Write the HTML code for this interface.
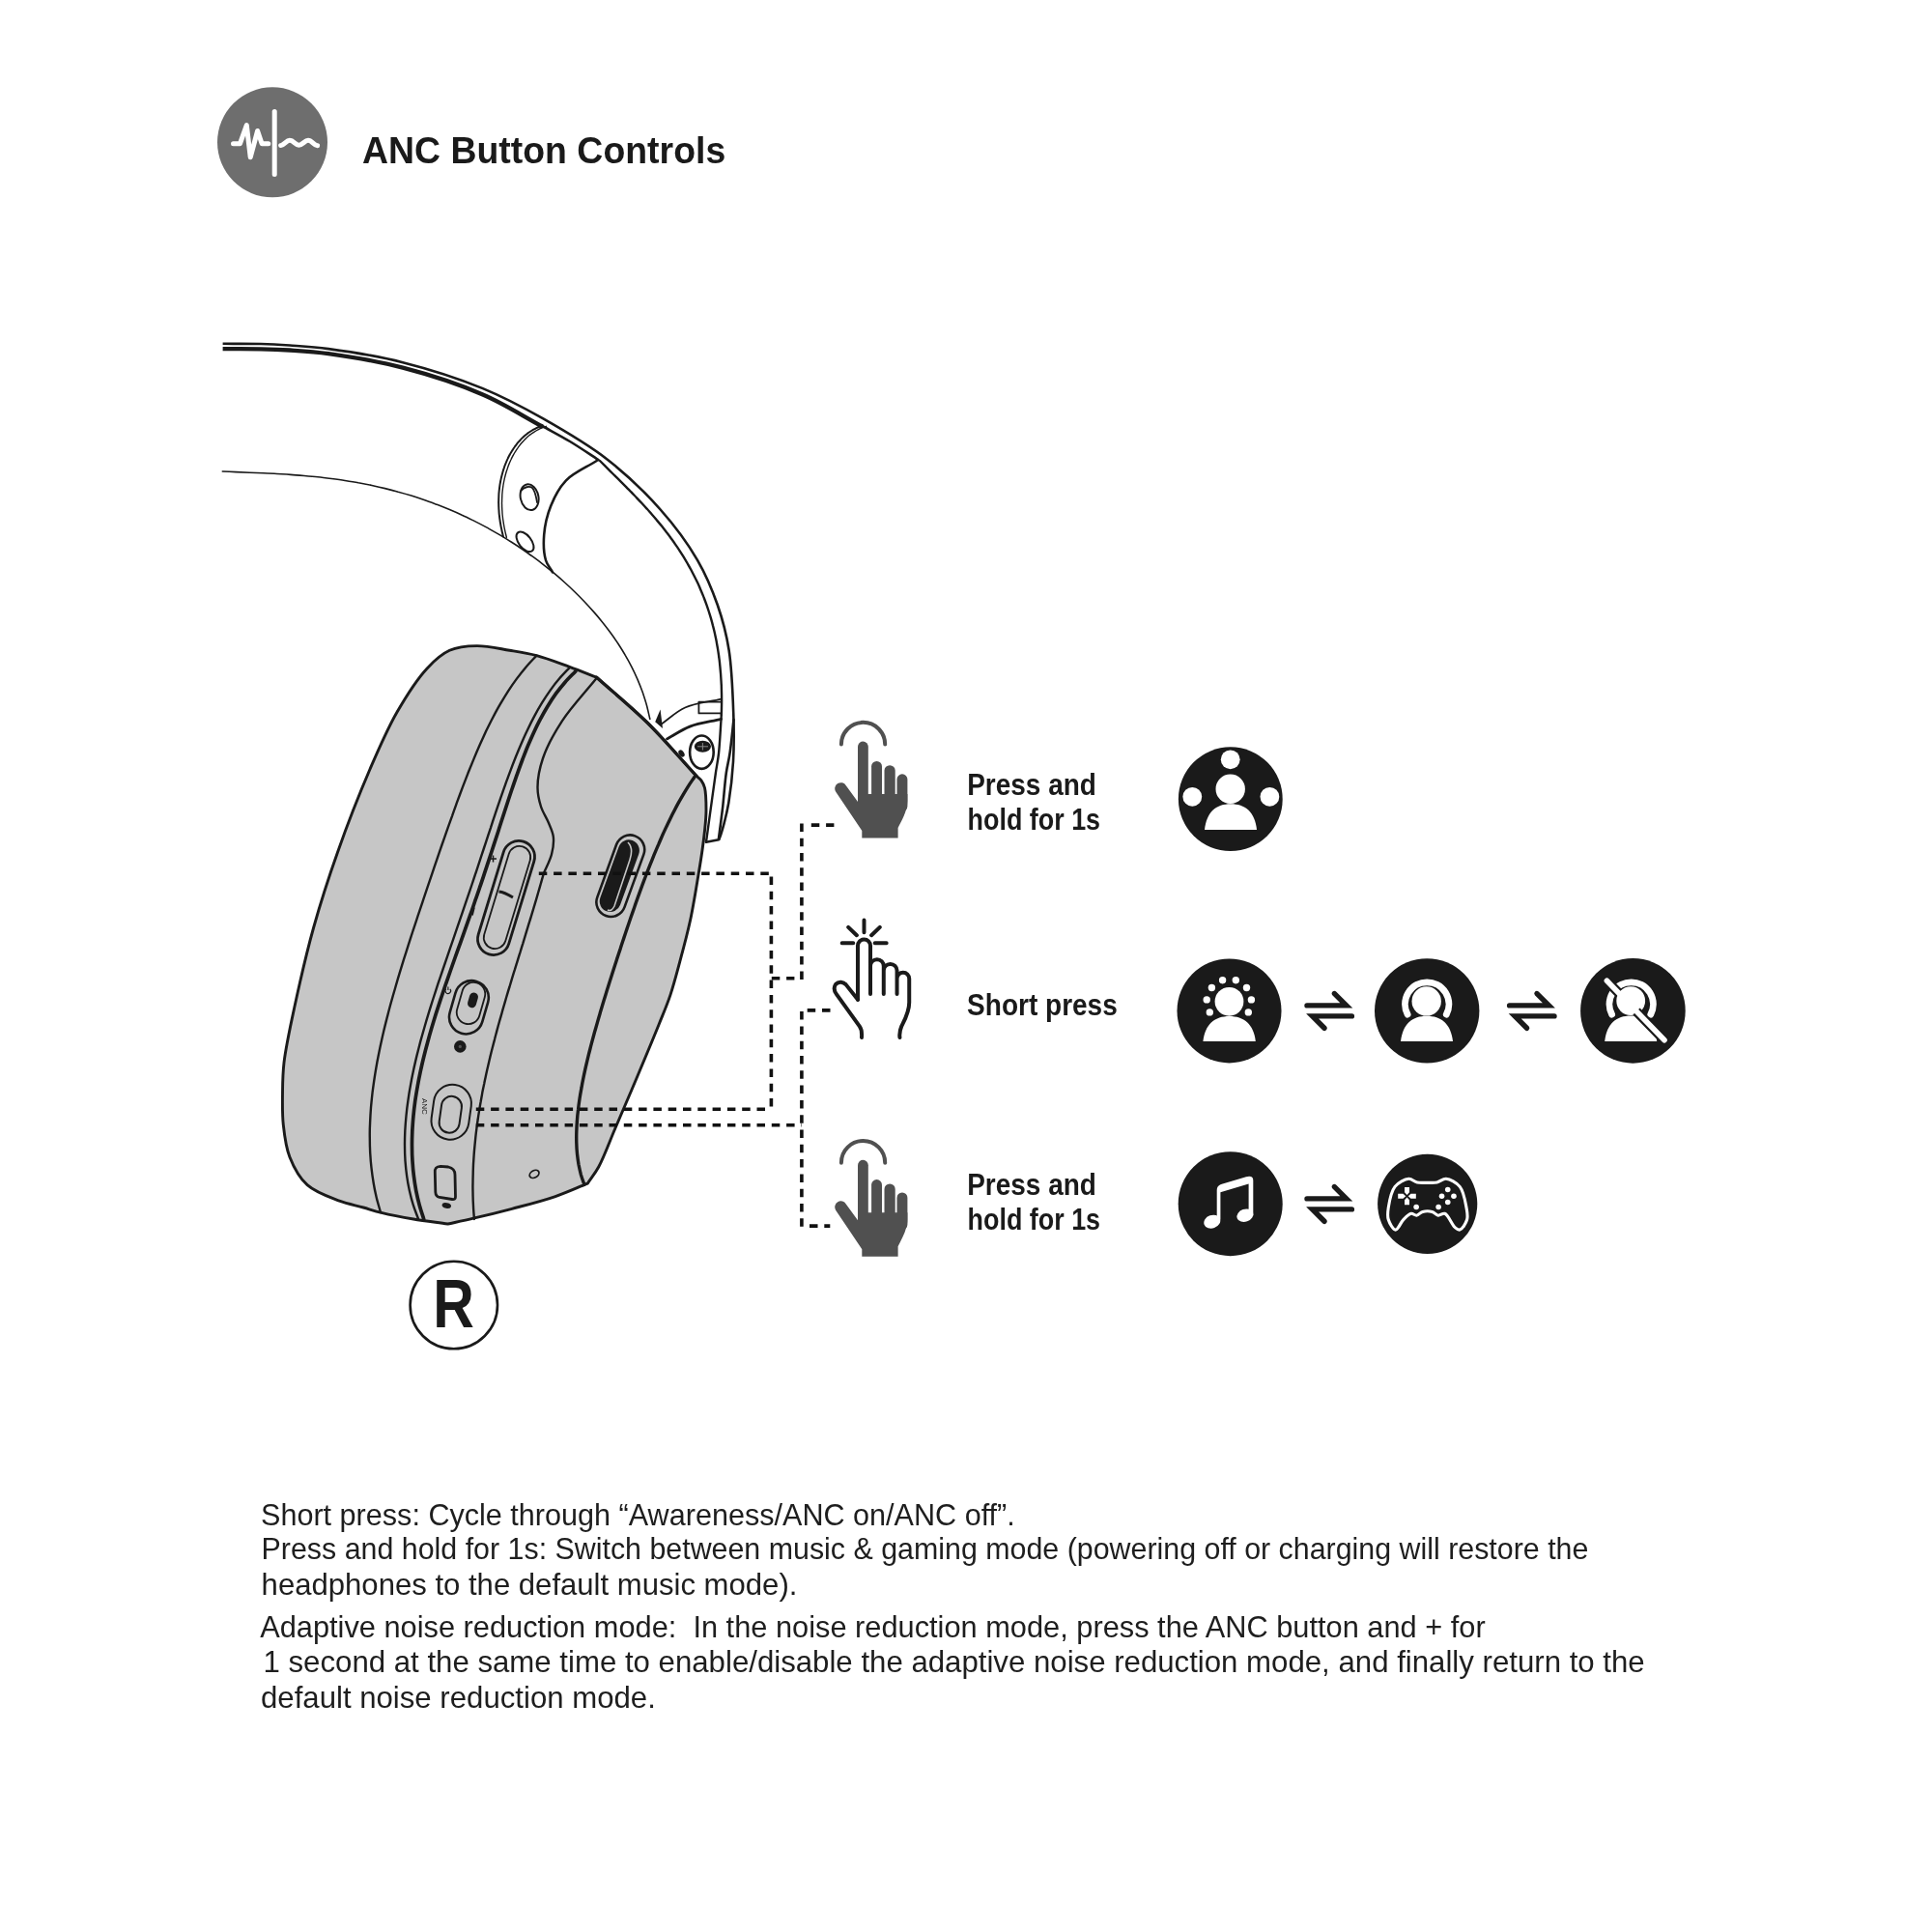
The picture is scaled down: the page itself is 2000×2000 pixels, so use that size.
<!DOCTYPE html>
<html><head><meta charset="utf-8"><style>
html,body{margin:0;padding:0;background:#fff;width:2000px;height:2000px;overflow:hidden}
svg{position:absolute;left:0;top:0;display:block;will-change:transform}
text{font-family:"Liberation Sans",sans-serif}
</style></head><body>
<svg width="2000" height="2000" viewBox="0 0 2000 2000">
<circle cx="282" cy="147.3" r="57" fill="#6e6e6e"/>
<g fill="none" stroke="#fff" stroke-width="5" stroke-linecap="round" stroke-linejoin="round">
<line x1="284.2" y1="115.5" x2="284.2" y2="180.5"/>
<path d="M241.5,148.7 H248.5 L255.3,129.5 L259.2,162.8 L266.6,135.5 L271.1,148.7 H277.8"/>
<path d="M290.6,150.6 C294.5,150 296.5,145 300.2,145.3 C303.8,145.5 306,150.3 309.4,150.3 C313,150.3 315.5,145.3 319,145.3 C322.8,145.3 325,150.5 328.6,150.8"/>
</g>
<g fill="none" stroke="#1a1a1a" stroke-linecap="round" stroke-linejoin="round">
<path d="M230.6,355.8 C243.7,355.9 257.8,355.7 270.0,356.0 C280.7,356.3 289.3,356.8 300.0,357.5 C312.4,358.4 324.6,359.0 340.0,361.1 C361.6,364.0 391.1,368.6 417.0,375.2 C444.3,382.1 474.5,391.7 499.8,402.1 C522.4,411.4 541.1,421.4 561.9,433.2 C584.1,445.8 608.3,459.8 628.8,475.7 C648.7,491.2 667.3,509.0 683.2,527.0 C698.1,543.8 711.8,562.2 722.0,579.8 C731.0,595.3 737.3,610.5 742.8,626.3 C748.1,641.6 751.9,655.9 754.6,673.0 C757.8,693.2 758.6,719.5 759.3,740.0 C759.9,757.5 759.9,772.9 759.0,788.5 C758.1,803.2 756.2,819.4 754.3,831.0 C752.9,839.2 751.4,845.4 749.7,851.8 C748.2,857.4 746.1,864.5 745.0,867.3 C744.6,868.4 744.3,868.8 744.0,869.5" stroke-width="2.6" stroke-linecap="butt"/>
<path d="M230.6,361.1 C243.7,361.2 257.8,361.0 270.0,361.3 C280.7,361.5 289.3,361.8 300.0,362.5 C312.4,363.3 324.6,363.9 340.0,366.1 C361.6,369.1 391.1,373.9 417.0,380.7 C444.3,387.8 474.7,397.6 499.8,408.5 C522.3,418.2 540.9,430.5 561.4,441.5" stroke-width="4.3" stroke-linecap="butt"/>
<path d="M561.4,441.0 C570.9,446.3 580.5,451.3 590.0,457.0 C599.9,462.9 609.7,469.7 619.5,476.1" stroke-width="2.6"/>
<path d="M621.0,477.0 C622.8,478.8 624.6,480.6 626.4,482.4 C628.2,484.2 630.0,486.0 631.8,487.8 C633.6,489.6 635.4,491.4 637.2,493.2 C639.1,495.0 640.9,496.8 642.7,498.6 C644.6,500.5 646.4,502.3 648.2,504.1 C650.0,506.0 651.9,507.8 653.7,509.7 C655.5,511.6 657.3,513.4 659.1,515.3 C660.9,517.2 662.7,519.1 664.5,521.0 C666.2,522.9 668.0,524.9 669.8,526.8 C671.5,528.7 673.2,530.7 675.0,532.7 C676.7,534.6 678.4,536.6 680.0,538.6 C681.7,540.6 683.4,542.6 685.0,544.6 C686.6,546.7 688.3,548.7 689.8,550.8 C691.4,552.8 693.0,554.9 694.5,557.0 C696.1,559.1 697.6,561.2 699.0,563.4 C700.5,565.5 702.0,567.6 703.4,569.8 C704.8,572.0 706.2,574.2 707.6,576.4 C708.9,578.6 710.2,580.8 711.5,583.0 C712.8,585.3 714.1,587.5 715.3,589.8 C716.5,592.1 717.7,594.4 718.9,596.7 C720.1,599.0 721.2,601.3 722.3,603.6 C723.4,606.0 724.4,608.3 725.4,610.7 C726.4,613.1 727.4,615.5 728.4,617.9 C729.3,620.3 730.2,622.7 731.1,625.1 C732.0,627.6 732.8,630.0 733.6,632.5 C734.4,635.0 735.1,637.4 735.9,639.9 C736.6,642.4 737.3,644.9 737.9,647.4 C738.6,649.9 739.2,652.5 739.8,655.0 C740.3,657.5 740.9,660.1 741.4,662.6 C741.9,665.2 742.3,667.7 742.8,670.3 C743.2,672.9 743.6,675.4 744.0,678.0 C744.3,680.6 744.7,683.2 745.0,685.8 C745.2,688.4 745.5,691.0 745.7,693.6 C746.0,696.2 746.2,698.8 746.3,701.3 C746.5,703.9 746.6,706.5 746.8,709.1 C746.9,711.7 746.9,714.3 747.0,716.9 C747.1,719.5 747.1,722.1 747.1,724.7 C747.1,727.2 747.1,729.8 747.0,732.4 C747.0,734.9 746.9,737.5 746.8,740.0" stroke-width="2.4"/>
<path d="M230.3,488.0 C235.0,488.2 239.6,488.4 244.3,488.6 C249.0,488.8 253.7,489.0 258.3,489.2 C263.0,489.4 267.8,489.6 272.5,489.8 C277.2,490.0 281.9,490.2 286.6,490.5 C291.3,490.8 296.1,491.0 300.8,491.4 C305.5,491.7 310.2,492.1 314.9,492.5 C319.6,492.9 324.3,493.3 329.0,493.8 C333.7,494.3 338.4,494.9 343.1,495.5 C347.8,496.1 352.4,496.7 357.1,497.5 C361.8,498.2 366.4,498.9 371.0,499.8 C375.7,500.6 380.3,501.5 384.9,502.5 C389.5,503.5 394.0,504.5 398.6,505.6 C403.2,506.7 407.7,507.9 412.2,509.2 C416.8,510.4 421.3,511.7 425.7,513.1 C430.2,514.5 434.7,516.0 439.1,517.5 C443.5,519.0 448.0,520.7 452.3,522.3 C456.7,524.0 461.1,525.8 465.4,527.6 C469.7,529.4 474.1,531.3 478.3,533.3 C482.6,535.2 486.8,537.3 491.1,539.4 C495.3,541.5 499.5,543.7 503.6,545.9 C507.7,548.2 511.9,550.5 515.9,552.9 C520.0,555.3 524.1,557.7 528.0,560.3 C532.0,562.8 536.0,565.4 539.9,568.0 C543.8,570.7 547.7,573.4 551.5,576.2 C555.4,579.0 559.2,581.8 562.9,584.8 C566.6,587.7 570.3,590.6 573.9,593.7 C577.5,596.7 581.1,599.8 584.6,603.0 C588.1,606.1 591.6,609.4 595.0,612.7 C598.3,615.9 601.7,619.3 604.9,622.7 C608.1,626.1 611.3,629.6 614.4,633.1 C617.5,636.6 620.5,640.2 623.5,643.9 C626.4,647.5 629.3,651.2 632.0,655.0 C634.8,658.8 637.4,662.6 640.0,666.5 C642.5,670.4 645.0,674.3 647.3,678.4 C649.7,682.4 651.9,686.5 654.0,690.7 C656.1,694.8 658.1,699.1 660.0,703.4 C661.8,707.7 663.6,712.1 665.2,716.5 C666.7,721.0 668.2,725.6 669.5,730.2 C670.7,734.8 671.7,739.6 672.8,744.3" stroke-width="1.6"/>
<path d="M561.9,440.5 C560.8,440.9 559.6,441.3 558.6,441.7 C557.5,442.1 556.4,442.6 555.3,443.1 C554.3,443.6 553.3,444.1 552.3,444.7 C551.3,445.3 550.3,445.9 549.3,446.5 C548.4,447.1 547.4,447.7 546.5,448.4 C545.6,449.1 544.7,449.8 543.8,450.5 C543.0,451.2 542.1,452.0 541.3,452.8 C540.5,453.5 539.7,454.3 538.9,455.2 C538.1,456.0 537.4,456.8 536.6,457.7 C535.9,458.5 535.2,459.4 534.5,460.3 C533.8,461.2 533.1,462.1 532.5,463.0 C531.8,464.0 531.2,464.9 530.6,465.9 C529.9,466.8 529.4,467.8 528.8,468.8 C528.2,469.8 527.7,470.8 527.1,471.8 C526.6,472.8 526.1,473.8 525.6,474.9 C525.1,475.9 524.7,477.0 524.2,478.0 C523.8,479.1 523.3,480.1 522.9,481.2 C522.5,482.3 522.1,483.4 521.8,484.4 C521.4,485.5 521.0,486.6 520.7,487.7 C520.4,488.8 520.1,489.9 519.8,491.0 C519.5,492.2 519.2,493.3 518.9,494.4 C518.7,495.5 518.5,496.7 518.2,497.8 C518.0,498.9 517.8,500.0 517.6,501.2 C517.4,502.3 517.3,503.5 517.1,504.6 C517.0,505.7 516.8,506.9 516.7,508.0 C516.6,509.2 516.5,510.3 516.4,511.4 C516.4,512.6 516.3,513.7 516.3,514.9 C516.2,516.0 516.2,517.2 516.2,518.3 C516.1,519.5 516.1,520.6 516.2,521.7 C516.2,522.9 516.2,524.0 516.3,525.2 C516.3,526.3 516.4,527.5 516.5,528.6 C516.5,529.7 516.6,530.9 516.7,532.0 C516.8,533.1 517.0,534.3 517.1,535.4 C517.2,536.5 517.4,537.7 517.6,538.8 C517.7,539.9 517.9,541.0 518.1,542.1 C518.3,543.3 518.5,544.4 518.7,545.5 C518.9,546.6 519.2,547.7 519.4,548.8 C519.6,550.0 519.9,551.1 520.2,552.2 C520.4,553.3 520.7,554.4 521.0,555.5" stroke-width="2"/>
<path d="M565.3,441.3 C564.2,441.7 563.0,442.1 562.0,442.5 C560.9,442.9 559.8,443.4 558.7,443.9 C557.7,444.4 556.7,444.9 555.7,445.5 C554.7,446.1 553.7,446.7 552.7,447.3 C551.8,447.9 550.8,448.5 549.9,449.2 C549.0,449.9 548.1,450.6 547.2,451.3 C546.4,452.0 545.5,452.8 544.7,453.6 C543.9,454.3 543.1,455.1 542.3,456.0 C541.5,456.8 540.8,457.6 540.0,458.5 C539.3,459.3 538.6,460.2 537.9,461.1 C537.2,462.0 536.5,462.9 535.9,463.8 C535.2,464.8 534.6,465.7 534.0,466.7 C533.3,467.6 532.8,468.6 532.2,469.6 C531.6,470.6 531.1,471.6 530.5,472.6 C530.0,473.6 529.5,474.6 529.0,475.7 C528.5,476.7 528.1,477.8 527.6,478.8 C527.2,479.9 526.7,480.9 526.3,482.0 C525.9,483.1 525.5,484.2 525.2,485.2 C524.8,486.3 524.4,487.4 524.1,488.5 C523.8,489.6 523.5,490.7 523.2,491.8 C522.9,493.0 522.6,494.1 522.3,495.2 C522.1,496.3 521.9,497.5 521.6,498.6 C521.4,499.7 521.2,500.8 521.0,502.0 C520.8,503.1 520.7,504.3 520.5,505.4 C520.4,506.5 520.2,507.7 520.1,508.8 C520.0,510.0 519.9,511.1 519.8,512.2 C519.8,513.4 519.7,514.5 519.7,515.7 C519.6,516.8 519.6,518.0 519.6,519.1 C519.5,520.3 519.5,521.4 519.6,522.5 C519.6,523.7 519.6,524.8 519.7,526.0 C519.7,527.1 519.8,528.3 519.9,529.4 C519.9,530.5 520.0,531.7 520.1,532.8 C520.2,533.9 520.4,535.1 520.5,536.2 C520.6,537.3 520.8,538.5 521.0,539.6 C521.1,540.7 521.3,541.8 521.5,542.9 C521.7,544.1 521.9,545.2 522.1,546.3 C522.3,547.4 522.6,548.5 522.8,549.6 C523.0,550.8 523.3,551.9 523.6,553.0 C523.8,554.1 524.1,555.2 524.4,556.3" stroke-width="1.4"/>
<path d="M617.7,477.0 C607.1,483.8 594.1,489.0 586.0,497.3 C578.7,504.8 574.0,514.3 570.2,523.7 C566.4,533.1 564.0,543.9 563.2,553.6 C562.5,562.6 562.9,573.0 565.0,580.0 C566.5,585.1 569.7,588.2 572.0,592.3" stroke-width="2.6"/>
<ellipse cx="548.1" cy="514.7" rx="9.3" ry="13.5" transform="rotate(-12 548.1 514.7)" stroke-width="2"/>
<path d="M539.5,508 C542,504 548,503 551,505 C554,508 555,514 556,520" stroke-width="1.8"/>
<ellipse cx="543.5" cy="560.8" rx="6.5" ry="12" transform="rotate(-38 543.5 560.8)" stroke-width="2"/>
<path d="M746.8,740.0 C745.9,753.3 745.2,769.0 744.0,780.0 C743.1,787.8 741.9,792.9 740.9,800.0 C739.7,808.1 738.6,816.3 737.3,825.9 C735.6,838.1 732.5,860.6 731.6,867.3 C731.3,869.4 731.2,870.1 731.0,871.5" stroke-width="2.4"/>
<path d="M759.5,745.0 C758.2,756.7 757.0,770.0 755.5,780.0 C754.4,787.6 752.9,792.3 751.8,800.0 C750.3,810.3 749.4,824.5 748.1,836.2 C746.8,847.2 745.4,857.4 744.0,868.0" stroke-width="2.6"/>
<path d="M731,871.8 L744,869.3" stroke-width="2.6"/>
<path d="M685.1,749.2 C693.1,743.6 699.8,736.7 709.2,732.5 C719.9,727.7 734.1,726.6 746.6,723.6" stroke-width="1.8"/>
<path d="M690.5,764.9 C698.4,760.6 705.4,755.5 714.1,752.1 C723.8,748.4 735.8,746.9 746.6,744.3" stroke-width="2.8"/>
<path d="M746.6,726.6 H723.4 V738.4 H746.6" stroke-width="1.8"/>
<ellipse cx="726.4" cy="778.7" rx="12.3" ry="17.2" stroke-width="2.6"/>
</g>
<ellipse cx="727.4" cy="772.8" rx="8.6" ry="6" fill="#1a1a1a"/>
<path d="M722,772.8 H733 M727.4,769 V776.5" stroke="#888" stroke-width="1"/>
<path d="M678.2,747.2 L683.6,734.4 L686,754.1 Z" fill="#1a1a1a"/>
<ellipse cx="705.5" cy="780" rx="2.6" ry="4" transform="rotate(-35 705.5 780)" fill="#1a1a1a"/>
<path d="M617.6,701.2 C608.3,697.6 599.4,694.0 589.6,690.4 C578.8,686.5 566.4,681.6 555.5,678.7 C545.8,676.1 537.3,674.9 527.5,673.3 C516.7,671.5 504.2,668.4 493.4,668.6 C483.6,668.7 473.9,669.5 465.4,673.3 C456.7,677.2 449.8,683.6 442.1,691.9 C431.7,703.1 420.6,720.5 411.1,737.0 C400.7,755.0 392.5,774.3 383.1,796.0 C372.0,821.8 359.5,853.8 349.6,881.9 C340.2,908.4 332.1,933.4 324.7,960.0 C317.1,987.1 310.2,1017.7 304.8,1042.8 C300.3,1063.6 295.9,1083.7 294.0,1100.0 C292.6,1112.0 292.6,1120.8 292.5,1131.4 C292.4,1142.3 292.1,1153.5 293.3,1164.5 C294.5,1175.6 295.8,1187.4 299.9,1197.7 C304.0,1208.1 309.8,1219.2 318.1,1226.7 C326.7,1234.5 340.9,1239.2 351.3,1243.2 C360.0,1246.5 368.4,1247.8 376.1,1250.0 C382.8,1251.9 387.6,1253.7 394.8,1255.4 C404.2,1257.7 416.7,1260.1 428.0,1262.0 C439.6,1264.0 451.7,1265.3 463.6,1267.0 C472.4,1265.1 480.4,1263.5 490.1,1261.2 C502.1,1258.4 516.4,1254.9 530.0,1251.3 C544.4,1247.5 560.5,1243.5 574.2,1238.8 C586.4,1234.6 596.9,1229.7 608.3,1225.1 C612.1,1219.4 615.8,1215.1 619.7,1208.0 C625.3,1197.7 631.1,1181.5 636.8,1168.2 C642.5,1154.9 647.5,1143.4 653.9,1128.3 C662.2,1108.6 675.0,1078.2 682.3,1060.0 C687.1,1048.0 690.4,1040.6 693.9,1030.1 C697.7,1018.7 700.9,1006.4 704.2,993.9 C707.8,980.6 711.5,966.8 714.6,952.5 C717.8,937.5 720.7,919.2 722.9,905.9 C724.6,896.0 725.9,888.1 727.0,880.0 C728.0,872.9 728.8,866.8 729.5,860.0 C730.2,853.0 731.0,846.0 731.0,838.8 C731.0,831.2 730.9,821.1 729.5,815.5 C728.6,812.1 727.4,809.9 725.9,807.8 C724.5,805.9 722.6,804.8 721.0,803.3 C704.0,784.9 687.5,765.3 670.0,748.0 C653.0,731.3 635.1,716.8 617.6,701.2Z" fill="#c6c6c6" stroke="#1a1a1a" stroke-width="2.9" stroke-linejoin="round"/>
<g fill="none" stroke="#1a1a1a" stroke-linecap="round" stroke-linejoin="round">
<path d="M617.6,701.2 C635.1,716.8 653.0,731.3 670.0,748.0 C687.5,765.3 704.0,784.9 721.0,803.3" stroke-width="3.2"/>
<path d="M555.5,678.7 C551.9,682.5 548.2,686.2 544.8,690.2 C541.4,694.2 538.2,698.3 535.1,702.4 C532.0,706.6 529.0,710.9 526.1,715.3 C523.3,719.7 520.6,724.2 518.0,728.7 C515.3,733.2 512.8,737.9 510.4,742.5 C507.9,747.2 505.6,751.9 503.3,756.6 C501.1,761.4 498.9,766.2 496.7,771.0 C494.6,775.8 492.5,780.7 490.5,785.6 C488.5,790.5 486.5,795.4 484.5,800.3 C482.6,805.2 480.7,810.1 478.8,815.1 C477.0,820.0 475.1,825.0 473.3,829.9 C471.5,834.9 469.7,839.8 468.0,844.8 C466.2,849.7 464.4,854.7 462.7,859.7 C461.0,864.6 459.2,869.6 457.5,874.5 C455.8,879.5 454.1,884.4 452.4,889.4 C450.7,894.3 449.0,899.3 447.4,904.2 C445.7,909.2 444.0,914.1 442.3,919.1 C440.7,924.0 439.0,928.9 437.4,933.9 C435.7,938.8 434.1,943.7 432.4,948.7 C430.8,953.6 429.2,958.6 427.5,963.5 C425.9,968.5 424.3,973.4 422.7,978.4 C421.1,983.3 419.6,988.3 418.0,993.2 C416.5,998.2 414.9,1003.2 413.4,1008.2 C411.9,1013.2 410.4,1018.2 409.0,1023.2 C407.5,1028.2 406.1,1033.2 404.7,1038.3 C403.3,1043.3 402.0,1048.4 400.7,1053.4 C399.4,1058.5 398.1,1063.6 396.9,1068.7 C395.7,1073.8 394.6,1078.9 393.5,1084.0 C392.4,1089.2 391.4,1094.3 390.4,1099.5 C389.5,1104.6 388.6,1109.8 387.8,1115.0 C387.0,1120.2 386.3,1125.4 385.6,1130.6 C385.0,1135.9 384.5,1141.1 384.0,1146.3 C383.6,1151.6 383.3,1156.8 383.1,1162.1 C382.8,1167.3 382.7,1172.6 382.8,1177.8 C382.8,1183.0 382.9,1188.3 383.2,1193.5 C383.5,1198.7 383.9,1204.0 384.5,1209.2 C385.1,1214.4 385.8,1219.5 386.7,1224.7 C387.5,1229.8 388.6,1234.9 389.8,1240.0 C391.0,1245.0 392.6,1250.0 394.0,1255.0" stroke-width="2.4"/>
<path d="M589.6,691.1 C586.1,694.8 582.5,698.4 579.2,702.3 C575.8,706.2 572.7,710.3 569.8,714.4 C566.8,718.6 564.0,722.9 561.3,727.2 C558.6,731.6 556.0,736.1 553.6,740.6 C551.1,745.2 548.8,749.8 546.6,754.5 C544.3,759.2 542.2,763.9 540.1,768.7 C538.0,773.5 536.0,778.3 534.0,783.2 C532.1,788.0 530.2,792.9 528.4,797.8 C526.5,802.7 524.8,807.6 523.0,812.6 C521.2,817.5 519.5,822.5 517.8,827.4 C516.1,832.3 514.4,837.3 512.8,842.2 C511.1,847.2 509.5,852.1 507.9,857.1 C506.2,862.0 504.6,866.9 503.0,871.9 C501.4,876.8 499.7,881.7 498.1,886.6 C496.5,891.5 494.9,896.4 493.3,901.3 C491.6,906.2 490.0,911.1 488.4,916.0 C486.7,920.9 485.1,925.7 483.4,930.6 C481.8,935.5 480.1,940.3 478.5,945.2 C476.8,950.0 475.2,954.9 473.5,959.7 C471.8,964.6 470.1,969.5 468.5,974.3 C466.8,979.2 465.1,984.0 463.5,988.9 C461.8,993.8 460.1,998.7 458.5,1003.5 C456.8,1008.4 455.2,1013.3 453.5,1018.2 C451.9,1023.1 450.3,1028.1 448.7,1033.0 C447.1,1037.9 445.6,1042.9 444.0,1047.9 C442.5,1052.8 441.0,1057.8 439.6,1062.8 C438.1,1067.9 436.7,1072.9 435.3,1077.9 C434.0,1083.0 432.7,1088.0 431.4,1093.1 C430.2,1098.2 429.0,1103.3 427.9,1108.5 C426.8,1113.6 425.8,1118.7 424.9,1123.9 C423.9,1129.1 423.1,1134.2 422.4,1139.4 C421.6,1144.6 421.0,1149.8 420.5,1155.0 C420.0,1160.2 419.6,1165.4 419.3,1170.7 C419.1,1175.9 418.9,1181.1 419.0,1186.3 C419.0,1191.5 419.2,1196.6 419.5,1201.8 C419.9,1206.9 420.4,1212.1 421.1,1217.2 C421.8,1222.3 422.7,1227.3 423.8,1232.3 C424.9,1237.3 426.1,1242.3 427.7,1247.1 C429.2,1252.0 431.2,1256.7 432.9,1261.5" stroke-width="2.4"/>
<path d="M595.8,695.0 C592.2,698.7 588.4,702.3 585.0,706.2 C581.6,710.1 578.4,714.1 575.4,718.2 C572.4,722.4 569.6,726.7 567.0,731.0 C564.3,735.4 561.8,739.9 559.4,744.4 C557.0,748.9 554.8,753.5 552.6,758.2 C550.5,762.8 548.4,767.6 546.4,772.3 C544.4,777.1 542.6,781.9 540.7,786.7 C538.9,791.5 537.1,796.4 535.4,801.3 C533.6,806.2 532.0,811.1 530.3,816.0 C528.6,820.9 527.0,825.8 525.4,830.7 C523.8,835.6 522.2,840.5 520.6,845.5 C519.0,850.4 517.4,855.3 515.9,860.2 C514.3,865.1 512.7,870.0 511.1,874.9 C509.5,879.8 507.9,884.7 506.3,889.6 C504.7,894.5 503.1,899.3 501.5,904.2 C499.9,909.0 498.3,913.9 496.6,918.7 C495.0,923.6 493.3,928.4 491.6,933.2 C490.0,938.1 488.3,942.9 486.6,947.7 C484.9,952.5 483.2,957.3 481.5,962.1 C479.8,967.0 478.1,971.8 476.4,976.6 C474.6,981.4 472.9,986.2 471.2,991.0 C469.5,995.9 467.8,1000.7 466.1,1005.5 C464.4,1010.4 462.7,1015.2 461.0,1020.1 C459.4,1024.9 457.7,1029.8 456.1,1034.7 C454.5,1039.6 452.9,1044.5 451.3,1049.4 C449.8,1054.3 448.3,1059.3 446.8,1064.2 C445.3,1069.2 443.9,1074.2 442.6,1079.2 C441.2,1084.2 439.9,1089.2 438.7,1094.2 C437.4,1099.3 436.3,1104.3 435.2,1109.4 C434.1,1114.5 433.1,1119.6 432.2,1124.7 C431.3,1129.8 430.4,1135.0 429.7,1140.1 C429.0,1145.3 428.4,1150.4 427.9,1155.6 C427.4,1160.8 427.1,1165.9 426.8,1171.1 C426.6,1176.3 426.4,1181.5 426.5,1186.6 C426.5,1191.8 426.6,1197.0 427.0,1202.1 C427.3,1207.3 427.7,1212.4 428.4,1217.5 C429.0,1222.6 429.8,1227.6 430.7,1232.6 C431.7,1237.6 432.8,1242.6 434.2,1247.5 C435.5,1252.4 437.2,1257.2 438.7,1262.0" stroke-width="3.7"/>
<path d="M617.6,702.0 C605.7,716.8 591.5,731.5 581.9,746.3 C573.5,759.2 566.2,772.6 562.0,785.0 C558.5,795.4 556.5,806.0 556.5,815.0 C556.5,822.3 558.0,828.7 560.0,835.0 C561.9,841.0 565.8,846.5 568.0,852.0 C570.0,856.9 572.2,861.1 572.8,866.1 C573.5,871.6 572.6,878.0 571.1,884.0 C569.5,890.7 565.6,897.5 562.8,904.2 L562.8,904.2 C562.0,907.2 561.1,910.2 560.3,913.2 C559.4,916.2 558.6,919.2 557.7,922.2 C556.8,925.2 556.0,928.2 555.1,931.2 C554.2,934.2 553.3,937.2 552.4,940.2 C551.5,943.2 550.6,946.2 549.7,949.2 C548.8,952.2 547.8,955.2 546.9,958.2 C546.0,961.2 545.1,964.2 544.1,967.3 C543.2,970.3 542.3,973.3 541.4,976.3 C540.4,979.3 539.5,982.3 538.6,985.3 C537.6,988.3 536.7,991.3 535.8,994.3 C534.8,997.4 533.9,1000.4 533.0,1003.4 C532.0,1006.4 531.1,1009.4 530.2,1012.4 C529.3,1015.5 528.4,1018.5 527.5,1021.5 C526.5,1024.5 525.6,1027.5 524.7,1030.6 C523.8,1033.6 523.0,1036.6 522.1,1039.6 C521.2,1042.7 520.3,1045.7 519.5,1048.7 C518.6,1051.8 517.7,1054.8 516.9,1057.8 C516.0,1060.9 515.2,1063.9 514.4,1066.9 C513.6,1070.0 512.7,1073.0 512.0,1076.1 C511.2,1079.1 510.4,1082.2 509.6,1085.2 C508.8,1088.2 508.1,1091.3 507.3,1094.4 C506.6,1097.4 505.9,1100.5 505.2,1103.5 C504.5,1106.6 503.8,1109.6 503.1,1112.7 C502.5,1115.8 501.8,1118.8 501.2,1121.9 C500.5,1124.9 499.9,1128.0 499.3,1131.1 C498.8,1134.2 498.2,1137.2 497.7,1140.3 C497.1,1143.4 496.6,1146.5 496.1,1149.6 C495.6,1152.6 495.1,1155.7 494.7,1158.8 C494.2,1161.9 493.8,1165.0 493.4,1168.1 C493.0,1171.2 492.6,1174.3 492.3,1177.4 C492.0,1180.5 491.7,1183.6 491.4,1186.7 C491.1,1189.8 490.8,1192.9 490.6,1196.0 C490.4,1199.2 490.2,1202.3 490.0,1205.4 C489.9,1208.5 489.7,1211.6 489.7,1214.8 C489.6,1217.9 489.5,1221.0 489.5,1224.2 C489.4,1227.3 489.4,1230.5 489.5,1233.6 C489.5,1236.7 489.6,1239.9 489.7,1243.0 C489.9,1246.2 490.0,1249.3 490.2,1252.5 C490.4,1255.7 490.7,1258.8 490.9,1262.0" stroke-width="2.4"/>
<path d="M719.0,804.2 C717.0,807.2 714.9,810.1 713.0,813.1 C711.0,816.2 709.1,819.4 707.2,822.6 C705.3,825.8 703.4,829.1 701.6,832.4 C699.8,835.7 698.1,839.1 696.3,842.5 C694.6,845.9 692.9,849.4 691.2,852.9 C689.6,856.4 687.9,859.9 686.3,863.4 C684.8,867.0 683.2,870.5 681.7,874.1 C680.1,877.7 678.6,881.3 677.1,884.9 C675.7,888.5 674.2,892.1 672.8,895.7 C671.4,899.3 670.0,902.9 668.6,906.5 C667.2,910.1 665.9,913.8 664.5,917.4 C663.2,921.0 661.9,924.6 660.6,928.2 C659.3,931.8 658.0,935.4 656.8,939.0 C655.5,942.6 654.3,946.2 653.0,949.8 C651.8,953.4 650.6,957.0 649.3,960.6 C648.1,964.2 646.9,967.8 645.7,971.4 C644.5,975.0 643.3,978.5 642.2,982.1 C641.0,985.7 639.8,989.3 638.6,992.9 C637.5,996.5 636.3,1000.0 635.2,1003.6 C634.0,1007.2 632.9,1010.8 631.7,1014.4 C630.6,1018.0 629.5,1021.6 628.3,1025.3 C627.2,1028.9 626.1,1032.5 625.0,1036.1 C623.9,1039.8 622.8,1043.4 621.7,1047.1 C620.6,1050.8 619.5,1054.4 618.5,1058.1 C617.4,1061.8 616.4,1065.5 615.3,1069.2 C614.3,1072.9 613.3,1076.6 612.3,1080.4 C611.3,1084.1 610.4,1087.9 609.4,1091.6 C608.5,1095.4 607.6,1099.2 606.7,1103.0 C605.8,1106.8 605.0,1110.6 604.2,1114.4 C603.4,1118.2 602.6,1122.1 602.0,1125.9 C601.3,1129.7 600.6,1133.6 600.0,1137.4 C599.4,1141.3 598.9,1145.1 598.5,1149.0 C598.0,1152.8 597.6,1156.7 597.4,1160.5 C597.1,1164.3 596.9,1168.2 596.8,1172.0 C596.7,1175.8 596.7,1179.6 596.8,1183.3 C596.9,1187.1 597.1,1190.8 597.5,1194.5 C597.9,1198.2 598.4,1201.9 599.0,1205.5 C599.7,1209.0 600.5,1212.6 601.4,1216.1 C602.4,1219.6 603.7,1222.9 604.9,1226.3" stroke-width="3.4"/>
</g>
<g fill="none" stroke="#1a1a1a" stroke-linejoin="round">
<rect x="-16.5" y="-61" width="33" height="122" rx="16.5" transform="translate(524,929.5) rotate(17)" stroke-width="2.8"/>
<rect x="-11.5" y="-55" width="23" height="110" rx="11.5" transform="translate(525,929) rotate(17)" stroke-width="1.8"/>
<path d="M516.5,923 Q522,923.5 531,929" stroke-width="3"/>
<rect x="-15" y="-44" width="30" height="88" rx="15" transform="translate(642.3,906.7) rotate(20)" stroke-width="2.6"/>
</g>
<rect x="-11" y="-39" width="22" height="78" rx="11" transform="translate(641.3,906.7) rotate(20)" fill="#1a1a1a"/>
<path d="M650,872 Q656,878 652,890 L636,938 Q633,944 629,942" fill="none" stroke="#c6c6c6" stroke-width="1.6"/>
<g fill="none" stroke="#1a1a1a">
<rect x="-17.5" y="-28" width="35" height="56" rx="17.5" transform="translate(485.4,1042.8) rotate(16)" stroke-width="2.6"/>
<rect x="-12" y="-22" width="24" height="44" rx="12" transform="translate(487.5,1038.5) rotate(16)" stroke-width="1.8"/>
</g>
<rect x="-4.5" y="-8" width="9" height="16" rx="4.5" transform="translate(489.5,1035.4) rotate(16)" fill="#1a1a1a"/>
<circle cx="476.3" cy="1083.4" r="6.3" fill="#1a1a1a"/>
<circle cx="476.3" cy="1083.4" r="1.6" fill="#555"/>
<g fill="none" stroke="#1a1a1a">
<rect x="-19.5" y="-28.5" width="39" height="57" rx="19.5" transform="translate(467.2,1151.3) rotate(8)" stroke-width="2"/>
<rect x="-10.5" y="-19" width="21" height="38" rx="10.5" transform="translate(466.3,1153.8) rotate(8)" stroke-width="2"/>
<path d="M450.3,1214 Q449.5,1207.5 456,1207.3 L464,1208 Q471,1209.5 471,1216 L471.5,1239 Q471.5,1242 468,1241.5 L455,1239.5 Q451,1238.5 450.8,1234 Z" stroke-width="2.8"/>
<ellipse cx="553.1" cy="1215.4" rx="5.2" ry="3.6" transform="rotate(-30 553.1 1215.4)" stroke-width="1.8"/>
</g>
<ellipse cx="462.3" cy="1248" rx="4.8" ry="2.8" transform="rotate(12 462.3 1248)" fill="#1a1a1a"/>
<text x="0" y="0" transform="translate(437,1137) rotate(90)" font-family="Liberation Sans" font-size="8" fill="#1a1a1a">ANC</text>
<path d="M507,889 h7 M510.5,885.5 v7" stroke="#1a1a1a" stroke-width="1.5"/>
<path d="M491,939.5 l-2,8" stroke="#1a1a1a" stroke-width="1.6"/>
<path d="M461.9,1023.6 A2.8,2.8 0 1 0 465.9,1023.8 M463.9,1021.6 V1025" fill="none" stroke="#1a1a1a" stroke-width="1.1"/>
<g fill="none" stroke="#111" stroke-width="3.6" stroke-dasharray="8.5 6.8">
<path d="M557.8,904.2 H798.4"/>
<path d="M798.4,907.5 V1146.9"/>
<path d="M492.8,1148.2 H798"/>
<path d="M492.8,1164.8 H829.9"/>
<path d="M798.8,1012.8 H822.4"/>
<path d="M829.9,852.4 V1014"/>
<path d="M839.8,854.1 H863.4"/>
<path d="M829.9,1047.1 V1271.6"/>
<path d="M835.7,1045.9 H859.7"/>
<path d="M838,1269.1 H859.3"/>
</g>
<g transform="translate(0.0,0.0)" fill="#505050"><path d="M870.9,770.5 A22.65,22.65 0 0 1 916.2,770.5" fill="none" stroke="#505050" stroke-width="4" stroke-linecap="round"/><rect x="888.0" y="767.6" width="10.8" height="72.4" rx="5.4"/><rect x="902.1" y="787.9" width="10.9" height="52.1" rx="5.4"/><rect x="915.5" y="792.2" width="11.2" height="47.8" rx="5.6"/><rect x="928.5" y="801.3" width="10.9" height="38.7" rx="5.4"/><path d="M888,822 H939.4 V829 C939.4,840 933,850 929.6,857 V867.6 H892.3 V860 L865.1,819.5 A6.2,6.2 0 0 1 875.8,813.2 L888,830 Z"/></g>
<g transform="translate(0.0,433.2)" fill="#505050"><path d="M870.9,770.5 A22.65,22.65 0 0 1 916.2,770.5" fill="none" stroke="#505050" stroke-width="4" stroke-linecap="round"/><rect x="888.0" y="767.6" width="10.8" height="72.4" rx="5.4"/><rect x="902.1" y="787.9" width="10.9" height="52.1" rx="5.4"/><rect x="915.5" y="792.2" width="11.2" height="47.8" rx="5.6"/><rect x="928.5" y="801.3" width="10.9" height="38.7" rx="5.4"/><path d="M888,822 H939.4 V829 C939.4,840 933,850 929.6,857 V867.6 H892.3 V860 L865.1,819.5 A6.2,6.2 0 0 1 875.8,813.2 L888,830 Z"/></g>
<g transform="translate(855,945) scale(0.07246)" fill="none" stroke="#1a1a1a" stroke-width="55" stroke-linecap="round" stroke-linejoin="round">
<path d="M455,1240 V470 A90,90 0 0 1 635,470 V1160 M635,760 A95,95 0 0 1 825,760 V1160 M825,825 A95,95 0 0 1 1015,825 V1160 M1015,940 A87.5,87.5 0 0 1 1190,940 V1280 C1190,1420 1120,1540 1080,1620 C1050,1690 1050,1740 1055,1780"/>
<path d="M455,1240 L290,1030 C250,980 180,975 140,1020 C110,1060 115,1110 150,1160 L480,1620 C510,1660 515,1720 510,1780"/>
<path d="M545,105 V280 M320,205 L440,320 M770,205 L650,320 M230,430 H390 M700,430 H865"/>
</g>
<text x="375.0" y="169.1" font-family="Liberation Sans" font-weight="bold" font-size="38.2" fill="#1a1a1a" textLength="376.2" lengthAdjust="spacingAndGlyphs">ANC Button Controls</text>
<text x="1001.2" y="822.6" font-family="Liberation Sans" font-weight="bold" font-size="30.5" fill="#1a1a1a" textLength="133.7" lengthAdjust="spacingAndGlyphs">Press and</text>
<text x="1001.6" y="858.9" font-family="Liberation Sans" font-weight="bold" font-size="30.5" fill="#1a1a1a" textLength="137.5" lengthAdjust="spacingAndGlyphs">hold for 1s</text>
<text x="1001.1" y="1050.8" font-family="Liberation Sans" font-weight="bold" font-size="30.5" fill="#1a1a1a" textLength="155.7" lengthAdjust="spacingAndGlyphs">Short press</text>
<text x="1001.2" y="1237.0" font-family="Liberation Sans" font-weight="bold" font-size="30.5" fill="#1a1a1a" textLength="133.7" lengthAdjust="spacingAndGlyphs">Press and</text>
<text x="1001.6" y="1273.3" font-family="Liberation Sans" font-weight="bold" font-size="30.5" fill="#1a1a1a" textLength="137.5" lengthAdjust="spacingAndGlyphs">hold for 1s</text>
<circle cx="1273.8" cy="827.2" r="53.9" fill="#1a1a1a"/>
<circle cx="1273.7" cy="786.3" r="9.9" fill="#fff"/><circle cx="1234.3" cy="824.8" r="9.9" fill="#fff"/><circle cx="1314.4" cy="824.8" r="9.9" fill="#fff"/>
<circle cx="1273.7" cy="816.8" r="15.2" fill="#fff"/><path d="M1247.0,859.0 C1249.0,840.3 1259.2,832.3 1274.0,832.3 C1288.8,832.3 1299.0,840.3 1301.0,859.0 Z" fill="#fff"/>
<circle cx="1272.5" cy="1046.4" r="54" fill="#1a1a1a"/>
<circle cx="1265.6" cy="1014.7" r="3.7" fill="#fff"/>
<circle cx="1279.3" cy="1014.7" r="3.7" fill="#fff"/>
<circle cx="1254.4" cy="1022.5" r="3.7" fill="#fff"/>
<circle cx="1290.5" cy="1022.5" r="3.7" fill="#fff"/>
<circle cx="1249.2" cy="1034.9" r="3.7" fill="#fff"/>
<circle cx="1295.4" cy="1034.9" r="3.7" fill="#fff"/>
<circle cx="1252.3" cy="1047.9" r="3.7" fill="#fff"/>
<circle cx="1292.3" cy="1047.9" r="3.7" fill="#fff"/>
<circle cx="1272.5" cy="1036.8" r="14.9" fill="#fff"/><path d="M1245.4,1078.1 C1247.4,1060.0 1257.6,1052.0 1272.6,1052.0 C1287.6,1052.0 1297.8,1060.0 1299.8,1078.1 Z" fill="#fff"/>
<circle cx="1477.2" cy="1046.4" r="54.2" fill="#1a1a1a"/>
<path d="M1457.1,1050.1 A22.7,22.7 0 1 1 1497.3,1050.1" fill="none" stroke="#fff" stroke-width="6.8" stroke-linecap="round"/>
<circle cx="1476.7" cy="1036.4" r="15.2" fill="#fff"/><path d="M1450.0,1078.1 C1452.0,1059.7 1462.2,1051.7 1477.0,1051.7 C1491.8,1051.7 1502.0,1059.7 1504.0,1078.1 Z" fill="#fff"/>
<circle cx="1690.4" cy="1046.4" r="54.3" fill="#1a1a1a"/>
<path d="M1668.6,1050.1 A22.7,22.7 0 1 1 1708.8,1050.1" fill="none" stroke="#fff" stroke-width="6.8" stroke-linecap="round"/>
<circle cx="1688.2" cy="1036.1" r="14.9" fill="#fff"/><path d="M1661.2,1078.1 C1663.2,1059.5 1673.4,1051.5 1688.2,1051.5 C1703.0,1051.5 1713.2,1059.5 1715.2,1078.1 Z" fill="#fff"/>
<line x1="1663.4" y1="1015.3" x2="1723" y2="1076.8" stroke="#1a1a1a" stroke-width="10" stroke-dasharray="19 27 100" stroke-dashoffset="2"/>
<line x1="1663.4" y1="1015.3" x2="1723" y2="1076.8" stroke="#fff" stroke-width="5.6" stroke-linecap="round"/>
<circle cx="1273.7" cy="1246.2" r="54" fill="#1a1a1a"/>
<path d="M1259.7,1262.5 V1232 Q1259.7,1227.5 1264,1226 L1290,1218.3 Q1297.3,1216.5 1297.3,1222 V1258.2 H1292.6 V1225.5 L1263.4,1234.3 V1262.5 Z" fill="#fff"/>
<ellipse cx="1254.8" cy="1264.7" rx="8.7" ry="6.8" transform="rotate(-20 1254.8 1264.7)" fill="#fff"/>
<ellipse cx="1288.9" cy="1258.2" rx="8.7" ry="6.5" transform="rotate(-20 1288.9 1258.2)" fill="#fff"/>
<circle cx="1477.7" cy="1246.3" r="51.6" fill="#1a1a1a"/>
<g transform="translate(1418,1188) scale(0.062112)">
<path d="M650.0,520.0 C701.6,517.2 740.3,569.0 790.0,580.0 C841.7,591.4 900.0,585.0 955.0,585.0 C1010.0,585.0 1067.2,591.0 1120.0,580.0 C1172.2,569.1 1215.6,516.4 1270.0,520.0 C1339.5,524.7 1444.2,581.1 1500.0,650.0 C1565.7,731.2 1591.8,898.5 1610.0,1000.0 C1623.4,1075.0 1637.7,1138.8 1620.0,1200.0 C1601.9,1262.4 1540.4,1359.8 1500.0,1370.0 C1473.5,1376.7 1448.5,1353.9 1420.0,1330.0 C1369.1,1287.2 1307.5,1120.0 1250.0,1100.0 C1213.7,1087.4 1174.8,1134.8 1140.0,1130.0 C1104.8,1125.1 1079.0,1080.8 1040.0,1070.0 C994.4,1057.4 925.6,1057.4 880.0,1070.0 C841.0,1080.8 813.3,1126.3 780.0,1130.0 C750.0,1133.3 721.3,1094.7 690.0,1100.0 C648.9,1106.9 600.8,1159.1 560.0,1200.0 C513.4,1246.8 471.9,1370.8 430.0,1370.0 C388.6,1369.2 329.8,1262.4 310.0,1200.0 C290.6,1138.8 298.5,1074.9 310.0,1000.0 C325.6,898.5 354.3,731.2 420.0,650.0 C475.8,581.1 582.0,523.7 650.0,520.0Z" fill="none" stroke="#fff" stroke-width="50" stroke-linejoin="round"/>
<circle cx="1300" cy="700" r="45" fill="#fff"/>
<circle cx="1200" cy="810" r="45" fill="#fff"/>
<circle cx="1400" cy="810" r="45" fill="#fff"/>
<circle cx="1300" cy="910" r="45" fill="#fff"/>
<circle cx="775" cy="990" r="45" fill="#fff"/>
<circle cx="1145" cy="990" r="45" fill="#fff"/>
<path d="M620,790 L580,745 V660 H660 V745 Z M620,830 L580,875 V955 H660 V875 Z M600,810 L555,770 H470 V850 H555 Z M640,810 L685,770 H770 V850 H685 Z" fill="#fff"/>
</g>
<g transform="translate(0.0,0.0)" fill="#1a1a1a"><path d="M1353,1038.2 L1387.3,1038.2 L1379.3,1030.2 A2.7,2.7 0 0 1 1383.1,1026.4 L1400.3,1043.6 L1353,1043.6 A2.7,2.7 0 0 1 1353,1038.2 Z"/><path d="M1353,1038.2 L1387.3,1038.2 L1379.3,1030.2 A2.7,2.7 0 0 1 1383.1,1026.4 L1400.3,1043.6 L1353,1043.6 A2.7,2.7 0 0 1 1353,1038.2 Z" transform="rotate(180 1376.2 1046.4)"/></g>
<g transform="translate(209.6,0.0)" fill="#1a1a1a"><path d="M1353,1038.2 L1387.3,1038.2 L1379.3,1030.2 A2.7,2.7 0 0 1 1383.1,1026.4 L1400.3,1043.6 L1353,1043.6 A2.7,2.7 0 0 1 1353,1038.2 Z"/><path d="M1353,1038.2 L1387.3,1038.2 L1379.3,1030.2 A2.7,2.7 0 0 1 1383.1,1026.4 L1400.3,1043.6 L1353,1043.6 A2.7,2.7 0 0 1 1353,1038.2 Z" transform="rotate(180 1376.2 1046.4)"/></g>
<g transform="translate(0.0,200.0)" fill="#1a1a1a"><path d="M1353,1038.2 L1387.3,1038.2 L1379.3,1030.2 A2.7,2.7 0 0 1 1383.1,1026.4 L1400.3,1043.6 L1353,1043.6 A2.7,2.7 0 0 1 1353,1038.2 Z"/><path d="M1353,1038.2 L1387.3,1038.2 L1379.3,1030.2 A2.7,2.7 0 0 1 1383.1,1026.4 L1400.3,1043.6 L1353,1043.6 A2.7,2.7 0 0 1 1353,1038.2 Z" transform="rotate(180 1376.2 1046.4)"/></g>
<circle cx="469.8" cy="1351" r="45.2" fill="none" stroke="#1a1a1a" stroke-width="2.6"/>
<text x="448.3" y="1374.2" font-family="Liberation Sans" font-weight="bold" font-size="71.0" fill="#1a1a1a" textLength="42.6" lengthAdjust="spacingAndGlyphs">R</text>
<text x="270.0" y="1578.5" font-family="Liberation Sans" font-size="31.2" fill="#1e1e1e" textLength="780.8" lengthAdjust="spacingAndGlyphs" xml:space="preserve">Short press: Cycle through “Awareness/ANC on/ANC off”.</text>
<text x="270.6" y="1613.9" font-family="Liberation Sans" font-size="31.2" fill="#1e1e1e" textLength="1373.8" lengthAdjust="spacingAndGlyphs" xml:space="preserve">Press and hold for 1s: Switch between music &amp; gaming mode (powering off or charging will restore the</text>
<text x="270.6" y="1650.6" font-family="Liberation Sans" font-size="31.2" fill="#1e1e1e" textLength="554.8" lengthAdjust="spacingAndGlyphs" xml:space="preserve">headphones to the default music mode).</text>
<text x="269.2" y="1695.3" font-family="Liberation Sans" font-size="31.2" fill="#1e1e1e" textLength="1268.5" lengthAdjust="spacingAndGlyphs" xml:space="preserve">Adaptive noise reduction mode:  In the noise reduction mode, press the ANC button and + for</text>
<text x="272.5" y="1731.3" font-family="Liberation Sans" font-size="31.2" fill="#1e1e1e" textLength="1430.2" lengthAdjust="spacingAndGlyphs" xml:space="preserve">1 second at the same time to enable/disable the adaptive noise reduction mode, and finally return to the</text>
<text x="270.0" y="1768.0" font-family="Liberation Sans" font-size="31.2" fill="#1e1e1e" textLength="408.8" lengthAdjust="spacingAndGlyphs" xml:space="preserve">default noise reduction mode.</text>
</svg>
</body></html>
